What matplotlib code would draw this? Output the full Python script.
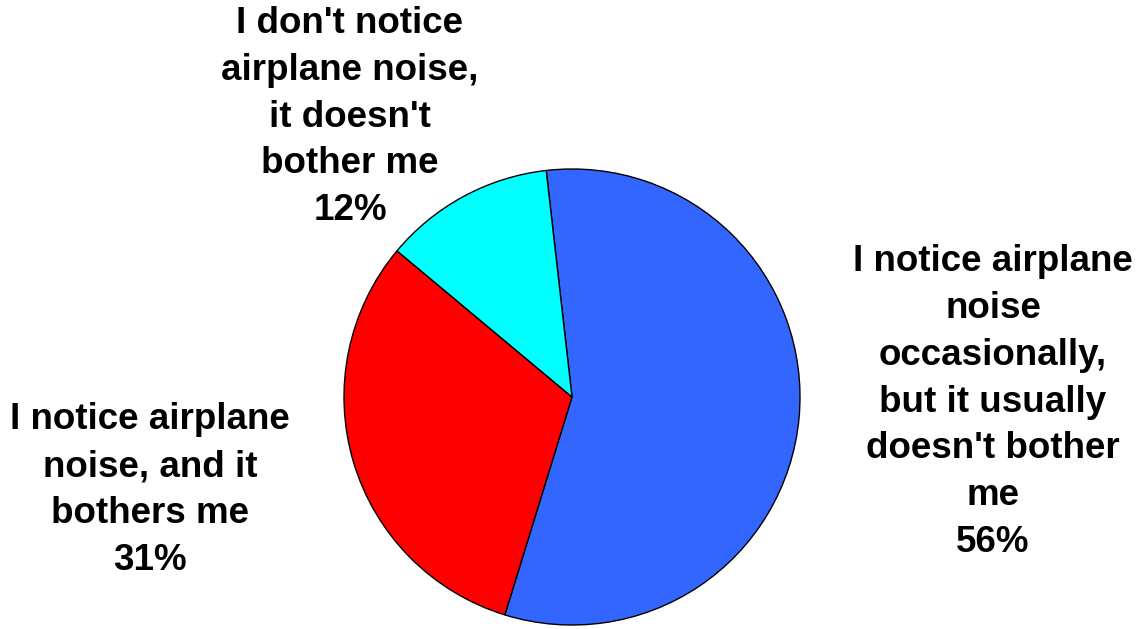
import matplotlib
matplotlib.use("Agg")
import matplotlib.pyplot as plt

# slice data (clockwise from top)
labels = ["I notice airplane\nnoise\noccasionally,\nbut it usually\ndoesn't bother\nme",
          "I notice airplane\nnoise, and it\nbothers me",
          "I don't notice\nairplane noise,\nit doesn't\nbother me"]
values = [56, 31, 12]
colors = ["#3366FF", "#FF0000", "#00FFFF"]

plt.rcParams['font.family'] = ['Liberation Sans', 'DejaVu Sans']

fig = plt.figure(figsize=(11.42, 6.29), dpi=100)
ax = fig.add_axes([344 / 1142, 4 / 629, 456 / 1142, 456 / 629])
ax.pie(values, colors=colors, startangle=96.5, counterclock=False,
       wedgeprops=dict(edgecolor='black', linewidth=1))
ax.set_xlim(-1, 1)
ax.set_ylim(-1, 1)

# label text positions in figure pixels
label_pos = [(993, 402), (150, 490), (350, 117)]
for lab, v, (px, py) in zip(labels, values, label_pos):
    fig.text(px / 1142, 1 - py / 629, f"{lab}\n{v}%", ha='center', va='center',
             fontsize=26.5, fontweight='bold', linespacing=1.44)

fig.savefig("out.png", dpi=100)
